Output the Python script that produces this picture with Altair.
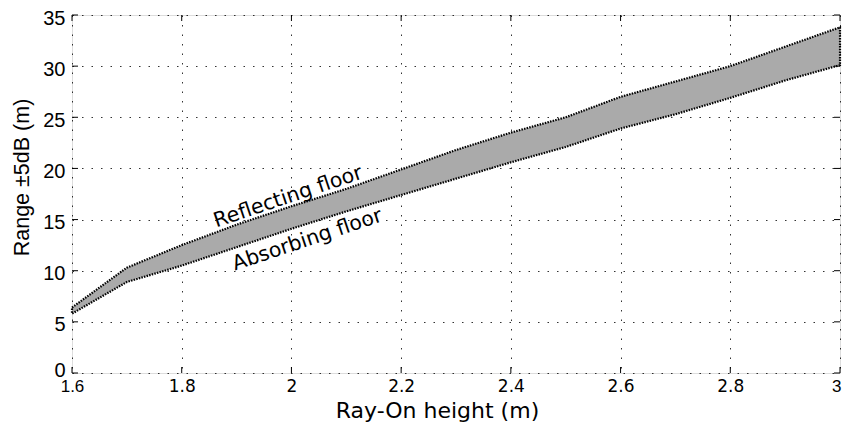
import altair as alt
import pandas as pd

x_vals = [1.6, 1.7, 1.8, 1.9, 2.0, 2.1, 2.2, 2.3, 2.4, 2.5, 2.6, 2.7, 2.8, 2.9, 3.0]
reflecting = [6.4, 10.3, 12.5, 14.5, 16.3, 18.0, 19.9, 21.8, 23.5, 25.0, 27.0, 28.5, 30.0, 31.9, 33.8]
absorbing = [5.8, 8.9, 10.5, 12.3, 14.1, 15.8, 17.4, 19.0, 20.6, 22.1, 23.9, 25.3, 26.9, 28.6, 30.1]

x_ticks = [1.6, 1.8, 2.0, 2.2, 2.4, 2.6, 2.8, 3.0]
y_ticks = [0, 5, 10, 15, 20, 25, 30, 35]

labels = ["Reflecting floor", "Absorbing floor"]
label_x = [1.994, 2.029]
label_y = [17.2, 13.0]

W, H = 768, 358

band = pd.DataFrame({"x": x_vals, "upper": reflecting, "lower": absorbing})
outline = pd.DataFrame({
    "x": x_vals + x_vals[::-1] + [x_vals[0]],
    "y": reflecting + absorbing[::-1] + [reflecting[0]],
})
outline["order"] = range(len(outline))
ann = pd.DataFrame({"text": labels, "x": label_x, "y": label_y})
xt = pd.DataFrame({"v": x_ticks})
yt = pd.DataFrame({"v": y_ticks})

xs = alt.Scale(domain=[1.6, 3.0], nice=False, zero=False)
ys = alt.Scale(domain=[0, 35], nice=False)

xaxis = alt.Axis(values=x_ticks, format="~g", title="Ray-On height (m)", grid=True,
                 gridDash=[1.5, 8], gridColor="#000", gridOpacity=0.8,
                 ticks=False, domain=False, labelPadding=5,
                 labelFont=alt.expr("datum.value == 1.6 || datum.value == 3 ? 'Liberation Sans' : 'DejaVu Sans'"),
                 labelAlign=alt.expr("datum.value == 3 ? 'right' : 'center'"),
                 labelOffset=alt.expr("datum.value == 3 ? 1 : 0"),
                 titleFont="DejaVu Sans", titleX=365, titleY=44,
                 titleAlign="center", titleBaseline="alphabetic",
                 labelFontSize=17, titleFontSize=22, labelColor="#000", titleColor="#000",
                 titleFontWeight="normal", labelFlush=False)
yaxis = alt.Axis(values=y_ticks, title="Range ±5dB (m)", grid=True,
                 gridDash=[1.5, 8], gridColor="#000", gridOpacity=0.8,
                 ticks=False, domain=False, labelPadding=7, titlePadding=9,
                 labelFont="Liberation Sans", titleFont="Liberation Sans",
                 labelOffset=alt.expr("datum.value == 0 ? -3 : 3"),
                 titleY=162, titleAlign="center",
                 labelFontSize=20, titleFontSize=21.5, labelColor="#000", titleColor="#000",
                 titleFontWeight="normal", labelFlush=False)

area = alt.Chart(band).mark_area(color="#aaaaaa", opacity=1).encode(
    x=alt.X("x:Q", scale=xs, axis=xaxis),
    y=alt.Y("lower:Q", scale=ys, axis=yaxis),
    y2="upper:Q",
)

edge = alt.Chart(outline).mark_line(color="black", strokeDash=[1.5, 1.2], strokeWidth=2.2).encode(
    x=alt.X("x:Q", scale=xs),
    y=alt.Y("y:Q", scale=ys),
    order="order:Q",
)

text = alt.Chart(ann).mark_text(angle=341.5, fontSize=20.5, font="DejaVu Sans", color="black",
                                align="center", baseline="middle").encode(
    x=alt.X("x:Q", scale=xs),
    y=alt.Y("y:Q", scale=ys),
    text="text:N",
)

tb = alt.Chart(xt).mark_rule(color="black", strokeWidth=1).encode(
    x=alt.X("v:Q", scale=xs), y=alt.value(H), y2=alt.value(H - 6))
tt = alt.Chart(xt).mark_rule(color="black", strokeWidth=1).encode(
    x=alt.X("v:Q", scale=xs), y=alt.value(0), y2=alt.value(6))
tl = alt.Chart(yt).mark_rule(color="black", strokeWidth=1).encode(
    y=alt.Y("v:Q", scale=ys), x=alt.value(0), x2=alt.value(6))
tr = alt.Chart(yt).mark_rule(color="black", strokeWidth=1).encode(
    y=alt.Y("v:Q", scale=ys), x=alt.value(W), x2=alt.value(W - 6))

chart = alt.layer(area, edge, text, tb, tt, tl, tr).properties(
    width=W, height=H,
    autosize=alt.AutoSizeParams(type="none"),
    padding={"left": 64, "top": 7, "right": 2, "bottom": 50},
).configure_view(stroke="black", strokeWidth=1.5).configure(
    font="DejaVu Sans"
)

chart.save("out.html", embed_options={"renderer": "svg", "actions": False})
